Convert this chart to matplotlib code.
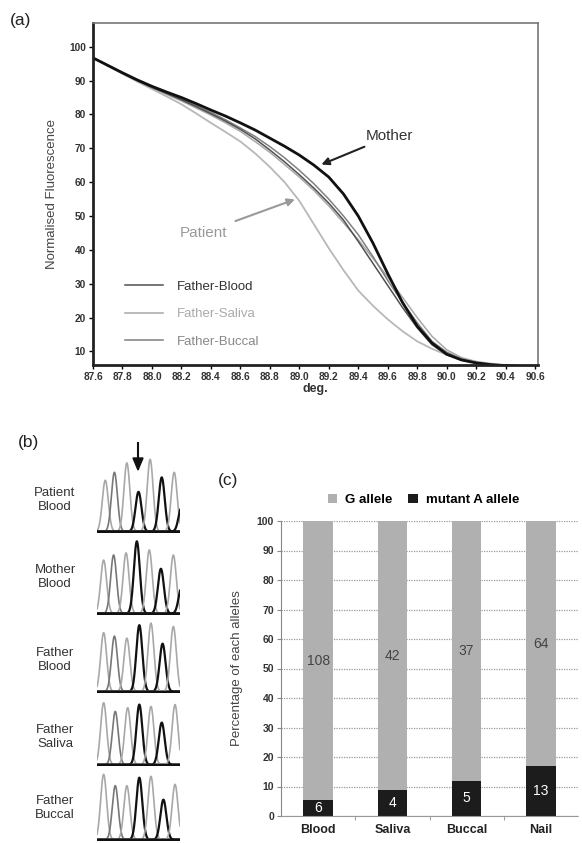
import numpy as np
import matplotlib.pyplot as plt

plt.rcParams['font.family'] = ['Liberation Sans', 'DejaVu Sans']

# ---- (a) melting curves ----
temp = [87.6, 87.7, 87.8, 87.9, 88.0, 88.1, 88.2, 88.3, 88.4, 88.5, 88.6,
        88.7, 88.8, 88.9, 89.0, 89.1, 89.2, 89.3, 89.4, 89.5, 89.6,
        89.7, 89.8, 89.9, 90.0, 90.1, 90.2, 90.3, 90.4, 90.5, 90.6]
mother = [96.7, 94.5, 92.3, 90.2, 88.3, 86.6, 85.0, 83.2, 81.3, 79.5, 77.5,
          75.4, 73.0, 70.6, 68.0, 65.0, 61.5, 56.5, 50.0, 42.0, 33.0,
          24.5, 17.5, 12.5, 9.2, 7.5, 6.6, 6.1, 5.8, 5.6, 5.5]
father_blood = [96.7, 94.5, 92.2, 90.0, 88.0, 86.2, 84.3, 82.3, 80.2, 78.0, 75.6,
                72.8, 69.5, 66.0, 62.2, 58.2, 53.8, 48.8, 42.5, 36.0, 29.5,
                23.0, 17.0, 12.0, 9.0, 7.5, 6.6, 6.1, 5.8, 5.6, 5.5]
father_saliva = [96.7, 94.4, 92.1, 89.9, 87.8, 85.9, 84.0, 81.9, 79.8, 77.5, 75.0,
                 72.0, 68.8, 65.2, 61.5, 57.5, 53.0, 48.0, 43.0, 37.5, 32.0,
                 26.0, 20.0, 14.5, 10.5, 8.2, 7.0, 6.3, 5.9, 5.6, 5.5]
father_buccal = [96.7, 94.5, 92.3, 90.1, 88.1, 86.3, 84.5, 82.6, 80.6, 78.4, 76.0,
                 73.5, 70.5, 67.2, 63.5, 59.5, 55.0, 50.0, 44.5, 38.0, 31.0,
                 24.5, 18.5, 13.0, 9.8, 7.8, 6.8, 6.2, 5.8, 5.6, 5.5]
patient = [96.7, 94.3, 92.0, 89.7, 87.5, 85.3, 83.0, 80.3, 77.5, 74.8, 72.0,
           68.5, 64.5, 60.0, 54.5, 47.5, 40.5, 34.0, 28.0, 23.5, 19.5,
           16.0, 13.0, 10.8, 9.0, 7.8, 7.0, 6.4, 6.0, 5.7, 5.5]
a_xticks = [87.6, 87.8, 88.0, 88.2, 88.4, 88.6, 88.8, 89.0, 89.2, 89.4,
            89.6, 89.8, 90.0, 90.2, 90.4, 90.6]
a_yticks = [10, 20, 30, 40, 50, 60, 70, 80, 90, 100]

# ---- (b) sequencing traces: peak position (0-1), height (0-1), tone ----
b_labels = ['Patient\nBlood', 'Mother\nBlood', 'Father\nBlood', 'Father\nSaliva', 'Father\nBuccal']
b_pos = [[0.10, 0.21, 0.36, 0.50, 0.64, 0.78, 0.93, 1.02],
         [0.08, 0.20, 0.35, 0.48, 0.63, 0.77, 0.92, 1.02],
         [0.08, 0.21, 0.36, 0.51, 0.65, 0.79, 0.92],
         [0.08, 0.22, 0.37, 0.51, 0.65, 0.78, 0.94],
         [0.08, 0.22, 0.36, 0.51, 0.65, 0.80, 0.94]]
b_height = [[0.71, 0.82, 0.95, 0.55, 1.00, 0.75, 0.82, 0.35],
            [0.74, 0.81, 0.84, 1.00, 0.88, 0.62, 0.81, 0.37],
            [0.86, 0.81, 0.78, 0.97, 1.00, 0.70, 0.95],
            [1.00, 0.86, 0.92, 0.97, 0.94, 0.68, 0.97],
            [0.98, 0.81, 0.81, 0.93, 0.95, 0.60, 0.83]]
b_tone = [['l', 'm', 'l', 'k', 'l', 'k', 'l', 'k'],
          ['l', 'm', 'l', 'k', 'l', 'k', 'l', 'k'],
          ['l', 'm', 'l', 'k', 'l', 'k', 'l'],
          ['l', 'm', 'l', 'k', 'l', 'k', 'l'],
          ['l', 'm', 'l', 'k', 'l', 'k', 'l']]

# ---- (c) allele counts ----
sites = ['Blood', 'Saliva', 'Buccal', 'Nail']
g_counts = [108, 42, 37, 64]
a_counts = [6, 4, 5, 13]

W, H = 582, 843
fig = plt.figure(figsize=(W / 100, H / 100), dpi=100)


def box(x0, y0, x1, y1):
    return [x0 / W, 1 - y1 / H, (x1 - x0) / W, (y1 - y0) / H]


# ===== panel (a) =====
ax = fig.add_axes(box(93, 23, 538, 365))
ax.plot(temp, patient, color='#b8b8b8', lw=1.3)
ax.plot(temp, father_saliva, color='#a8a8a8', lw=1.1, label='Father-Saliva')
ax.plot(temp, father_buccal, color='#808080', lw=1.1, label='Father-Buccal')
ax.plot(temp, father_blood, color='#505050', lw=1.1, label='Father-Blood')
ax.plot(temp, mother, color='#111111', lw=2.0)
ax.set_xlim(87.6, 90.62)
ax.set_ylim(6, 107)
ax.set_xticks(a_xticks)
ax.set_xticklabels(['%.1f' % t for t in a_xticks], fontsize=7.3, fontweight='bold', color='#333')
ax.set_yticks(a_yticks)
ax.set_yticklabels([str(t) for t in a_yticks], fontsize=7.3, fontweight='bold', color='#333')
ax.tick_params(length=3, width=1, pad=2)
for s in ['left', 'bottom']:
    ax.spines[s].set_linewidth(2)
    ax.spines[s].set_color('#222')
for s in ['top', 'right']:
    ax.spines[s].set_linewidth(1.2)
    ax.spines[s].set_color('#777')
ax.set_xlabel('deg.', fontsize=9, fontweight='bold', color='#333', labelpad=1)
ax.set_ylabel('Normalised Fluorescence', fontsize=9.5, color='#444', labelpad=8)

h = ax.get_legend_handles_labels()[0]
order = [2, 0, 1]
leg = ax.legend([h[i] for i in order], ['Father-Blood', 'Father-Saliva', 'Father-Buccal'],
                loc='center left', bbox_to_anchor=(0.072, 0.149), frameon=False,
                fontsize=9.5, handlelength=2.9, handletextpad=1.0, labelspacing=1.15,
                borderpad=0, borderaxespad=0)
for t, c in zip(leg.get_texts(), ['#333', '#aaa', '#888']):
    t.set_color(c)

ax.annotate('Mother', xy=(89.15, 65.2), xytext=(89.45, 73.5), fontsize=11, color='#333',
            va='center', ha='left',
            arrowprops=dict(arrowstyle='-|>', color='#222', lw=1.5, shrinkA=1, shrinkB=0))
ax.annotate('Patient', xy=(88.97, 54.9), xytext=(88.19, 45.1), fontsize=11, color='#9a9a9a',
            va='center', ha='left',
            arrowprops=dict(arrowstyle='-|>', color='#9a9a9a', lw=1.5, shrinkA=4, shrinkB=0))
fig.text(10 / W, 1 - 20 / H, '(a)', fontsize=12.5, color='#222', va='center')

# ===== panel (b) =====
fig.text(18 / W, 1 - 443 / H, '(b)', fontsize=12.5, color='#222', va='center')
rows = [(455, 533), (537, 615), (619, 693), (699, 766), (769, 841)]
label_y = [500, 577, 660, 737, 808]
tone_col = {'k': '#111111', 'm': '#777777', 'l': '#a8a8a8'}
tone_lw = {'k': 1.6, 'm': 1.2, 'l': 1.2}
xs = np.linspace(0, 1, 400)
for r, (y0, y1) in enumerate(rows):
    bx = fig.add_axes(box(97, y0, 180, y1))
    bx.set_facecolor('#eeeeee')
    for p, hh, tn in zip(b_pos[r], b_height[r], b_tone[r]):
        bx.plot(xs, hh * np.exp(-0.5 * ((xs - p) / 0.036) ** 2), color=tone_col[tn], lw=tone_lw[tn])
    bx.axhline(0, color='#111', lw=2.5)
    bx.set_xlim(0, 1)
    bx.set_ylim(-0.02, 1.06)
    bx.axis('off')
    fig.text(55 / W, 1 - label_y[r] / H, b_labels[r], fontsize=9.5, color='#333',
             ha='center', va='center', linespacing=1.15)
fig.add_artist(plt.Line2D([138 / W, 138 / W], [1 - 443 / H, 1 - 458 / H], color='#111', lw=1.5))
fig.patches.append(plt.Polygon([[133 / W, 1 - 458 / H], [143 / W, 1 - 458 / H], [138 / W, 1 - 470 / H]],
                               closed=True, color='#111', transform=fig.transFigure))

# ===== panel (c) =====
fig.text(218 / W, 1 - 480 / H, '(c)', fontsize=12.5, color='#222', va='center')
cx = fig.add_axes(box(281, 521, 578, 816))
x = np.arange(len(sites))
tot = np.array(g_counts) + np.array(a_counts)
a_pct = np.array(a_counts) / tot * 100
g_pct = np.array(g_counts) / tot * 100
cx.bar(x, a_pct, width=0.4, color='#1c1c1c', label='mutant A allele', zorder=2)
cx.bar(x, g_pct, width=0.4, bottom=a_pct, color='#b0b0b0', label='G allele', zorder=2)
for i in range(len(sites)):
    cx.text(x[i], a_pct[i] + g_pct[i] / 2, str(g_counts[i]), ha='center', va='center',
            fontsize=10, color='#444', zorder=3)
    cx.text(x[i], a_pct[i] / 2, str(a_counts[i]), ha='center', va='center',
            fontsize=10, color='white', zorder=3)
cx.set_xlim(-0.5, 3.5)
cx.set_ylim(0, 100)
cx.set_yticks(range(0, 101, 10))
cx.set_yticklabels([str(v) for v in range(0, 101, 10)], fontsize=7.5, fontweight='bold', color='#333')
cx.set_xticks(x)
cx.set_xticklabels(sites, fontsize=9, fontweight='bold', color='#222')
cx.set_xticks([0.5, 1.5, 2.5], minor=True)
cx.tick_params(axis='x', which='major', length=0, pad=6)
cx.tick_params(axis='x', which='minor', length=3, color='#888')
cx.tick_params(axis='y', length=3, color='#888', pad=2)
cx.yaxis.grid(True, linestyle=(0, (1, 1)), color='#999', lw=0.9)
cx.set_axisbelow(True)
for s in ['top', 'right']:
    cx.spines[s].set_visible(False)
cx.spines['left'].set_color('#888')
cx.spines['bottom'].set_color('#999')
cx.spines['bottom'].set_linestyle((0, (1, 1)))
cx.set_ylabel('Percentage of each alleles', fontsize=9.5, color='#444', labelpad=10)
hc, lc = cx.get_legend_handles_labels()
cx.legend(hc[::-1], lc[::-1], loc='center', bbox_to_anchor=(0.48, 1.07), ncol=2, frameon=False,
          handlelength=0.7, handleheight=0.7, handletextpad=0.6, columnspacing=1.2,
          borderaxespad=0, prop={'weight': 'bold', 'size': 9.5})

fig.savefig('out.png', dpi=100)
